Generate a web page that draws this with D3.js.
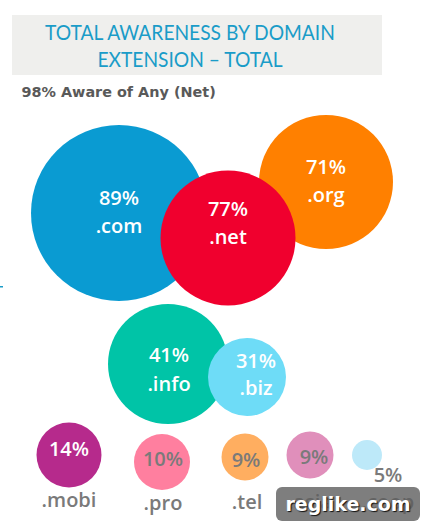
<!DOCTYPE html>
<html><head><meta charset="utf-8">
<script src="https://cdn.jsdelivr.net/npm/d3@7/dist/d3.min.js"></script>
<style>html,body{margin:0;padding:0;background:#fff}svg{display:block}</style>
</head><body><div id="c"></div>
<script>
const titleLines = ["TOTAL AWARENESS BY DOMAIN", "EXTENSION – TOTAL"];
const subtitle = "98% Aware of Any (Net)";
const watermark = "reglike.com";
const domains = [".com", ".org", ".net", ".info", ".biz", ".mobi", ".pro", ".tel", ".asia", ".coop"];
const awareness = [89, 71, 77, 41, 31, 14, 10, 9, 9, 5];
const colors = ["#0a9bd2", "#ff8000", "#f0002e", "#00c4a7", "#6edcf7", "#b62a8c", "#ff7f9f", "#ffae60", "#e08fbb", "#bde9f9"];

// hand-placed bubble layout of the original graphic
const layoutX = [119, 326, 228, 168, 247, 69, 162, 245, 310, 367];
const layoutY = [213, 182, 238, 364, 377, 455, 462, 457, 455, 455];
const sizeDomain = [5, 9, 10, 14, 31, 41, 71, 77, 89];
const sizeRange = [15, 23.5, 28, 32.5, 39, 60, 67, 67.5, 88];
const r = d3.scaleLinear().domain(sizeDomain).range(sizeRange);

const W = 421, H = 521;
const svg = d3.select("#c").append("svg").attr("width", W).attr("height", H);

svg.append("rect").attr("x", 12).attr("y", 15).attr("width", 370).attr("height", 60).attr("fill", "#efefed");
svg.append("g").attr("transform", "translate(190,0) scale(0.915,1)")
  .selectAll("text.title").data(titleLines).join("text").attr("class", "title")
  .attr("x", 0).attr("y", (d, i) => 40 + i * 27)
  .attr("text-anchor", "middle").attr("fill", "#1a9cc8")
  .style("font", "21px Lato, sans-serif").text(d => d);
svg.append("text").attr("x", 21.5).attr("y", 97).attr("fill", "#595959")
  .style("font", "bold 14.4px 'DejaVu Sans', sans-serif").text(subtitle);
svg.append("rect").attr("x", 0).attr("y", 286).attr("width", 3).attr("height", 1.5).attr("fill", "#1a9cc8");

const data = domains.map((name, i) => ({name, value: awareness[i], color: colors[i], x: layoutX[i], y: layoutY[i], i}));
svg.selectAll("circle.b").data(data).join("circle").attr("class", "b")
  .attr("cx", d => d.x).attr("cy", d => d.y).attr("r", d => r(d.value)).attr("fill", d => d.color);

const font = "600 20px 'Open Sans', sans-serif";
// label offsets from the bubble centre: value line, name line
const valDX = [0, 0, 0, 1, 9, 0, 1, 1, 4, 21];
const valDY = [-8, -8, -22, -2, -9, 1, 4, 10, 9, 27];
const nameDX = [0, 0, 0, 1, 9, 0, 1, 2, 0, 21];
const nameDY = [20, 20, 6, 27, 18, 52, 48, 52, 54, 54];
const grey = "#7a7a7a";
svg.selectAll("text.v").data(data).join("text").attr("class", "v")
  .attr("x", d => d.x + valDX[d.i]).attr("y", d => d.y + valDY[d.i])
  .attr("text-anchor", "middle").style("font", font)
  .attr("fill", d => d.i <= 5 ? "#fff" : grey).text(d => d.value + "%");
svg.selectAll("text.n").data(data).join("text").attr("class", "n")
  .attr("x", d => d.x + nameDX[d.i]).attr("y", d => d.y + nameDY[d.i])
  .attr("text-anchor", "middle").style("font", font)
  .attr("fill", d => d.i <= 4 ? "#fff" : grey).text(d => d.name);

svg.append("rect").attr("x", 276).attr("y", 487).attr("width", 144).attr("height", 34).attr("rx", 6)
  .attr("fill", "#5e5e5e").attr("fill-opacity", 0.8);
svg.append("text").attr("x", 348).attr("y", 511).attr("text-anchor", "middle")
  .attr("fill", "#fff").style("font", "bold 19px 'DejaVu Sans', sans-serif")
  .style("text-shadow", "1px 1px 1px #111").text(watermark);
</script></body></html>
